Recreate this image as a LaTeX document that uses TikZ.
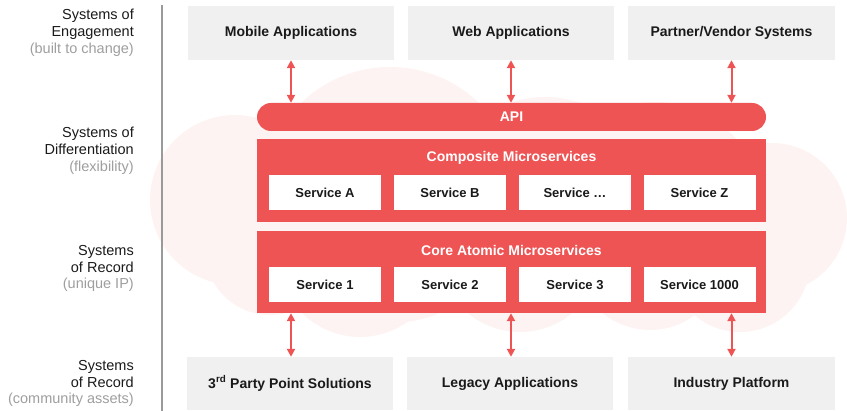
\documentclass[tikz,border=0pt]{standalone}
\usepackage{fontspec}
\setmainfont{Liberation Sans}
\usetikzlibrary{arrows.meta}
\definecolor{redc}{HTML}{EF5455}
\definecolor{pinkc}{HTML}{FEF3F3}
\definecolor{grayboxc}{HTML}{F0F0F0}
\definecolor{graytxt}{HTML}{9E9E9E}
\definecolor{txtc}{HTML}{1A1A1A}
\definecolor{linec}{HTML}{9A9A9A}
\begin{document}
\begin{tikzpicture}[x=1pt,y=-1pt,
  graybox/.style={fill=grayboxc, draw=none, minimum height=54pt, inner sep=0pt, text=txtc,
    font=\fontsize{14}{17}\selectfont\bfseries},
  redbox/.style={fill=redc, draw=none, minimum width=509pt, inner sep=0pt},
  svc/.style={fill=white, draw=none, minimum width=112pt, minimum height=35pt, inner sep=0pt,
    text=txtc, font=\fontsize{13}{15}\selectfont\bfseries},
  ttl/.style={text=white, inner sep=0pt, font=\fontsize{14}{17}\selectfont\bfseries},
  lbl/.style={anchor=east, align=right, inner sep=0pt, text=txtc,
    font=\fontsize{14.5}{16.8}\selectfont},
  arr/.style={draw=redc, line width=2pt, {Triangle[length=8pt,width=8pt]}-{Triangle[length=8pt,width=8pt]}}
]
\useasboundingbox (0,0) rectangle (847,411);
% cloud background
\begin{scope}[fill=pinkc]
  \fill (235,200) circle (85);
  \fill (390,195) circle (128);
  \fill (545,205) circle (108);
  \fill (655,210) circle (108);
  \fill (772,218) circle (75);
  \fill (360,255) circle (82);
  \fill (520,250) circle (82);
  \fill (650,255) circle (75);
  \fill (740,262) circle (70);
  \fill (270,250) circle (65);
\end{scope}
% divider
\draw[linec, line width=1.2pt] (162,5) coordinate (vtop) -- (162,411) coordinate (vbot);
% left labels
\node[lbl] (l1) at (134,32.5) {Systems of\\Engagement\\\textcolor{graytxt}{(built to change)}};
\node[lbl] (l2) at (134,150.5) {Systems of\\Differentiation\\\textcolor{graytxt}{(flexibility)}};
\node[lbl] (l3) at (134,268.5) {Systems\\of Record\\\textcolor{graytxt}{(unique IP)}};
\node[lbl] (l4) at (134,383.5) {Systems\\of Record\\\textcolor{graytxt}{(community assets)}};
% top boxes
\node[graybox, minimum width=206pt] (mob) at (291,33) {Mobile Applications};
\node[graybox, minimum width=206pt] (web) at (511,33) {Web Applications};
\node[graybox, minimum width=207pt] (par) at (731.5,33) {Partner/Vendor Systems};
% bottom boxes
\node[graybox, minimum width=206pt, minimum height=53pt] (tp) at (290,383.5) {3\textsuperscript{rd} Party Point Solutions};
\node[graybox, minimum width=206pt, minimum height=53pt] (leg) at (510,383.5) {Legacy Applications};
\node[graybox, minimum width=207pt, minimum height=53pt] (ind) at (731.5,383.5) {Industry Platform};
% API
\node[redbox, minimum height=28pt, rounded corners=14pt] (api) at (511.5,117) {};
\node[ttl] (apit) at (api.center) {API};
% composite
\node[redbox, minimum height=83pt] (comp) at (511.5,180.5) {};
\node[ttl] (compt) at (511.5,158) {Composite Microservices};
\node[svc] (sa) at (325,192.5) {Service A};
\node[svc] (sb) at (450,192.5) {Service B};
\node[svc] (sd) at (575,192.5) {Service \dots};
\node[svc] (sz) at (699.5,192.5) {Service Z};
% core
\node[redbox, minimum height=82pt] (core) at (511.5,272) {};
\node[ttl] (coret) at (511.5,250) {Core Atomic Microservices};
\node[svc] (s1) at (325,284.5) {Service 1};
\node[svc] (s2) at (450,284.5) {Service 2};
\node[svc] (s3) at (575,284.5) {Service 3};
\node[svc] (s4) at (699.5,284.5) {Service 1000};
% arrows
\draw[arr] (mob.south) -- (mob.south |- api.north);
\draw[arr] (web.south) -- (web.south |- api.north);
\draw[arr] (par.south) -- (par.south |- api.north);
\draw[arr] (tp.north -| mob.south) -- (mob.south |- core.south);
\draw[arr] (leg.north -| web.south) -- (web.south |- core.south);
\draw[arr] (ind.north -| par.south) -- (par.south |- core.south);
\end{tikzpicture}
\end{document}
